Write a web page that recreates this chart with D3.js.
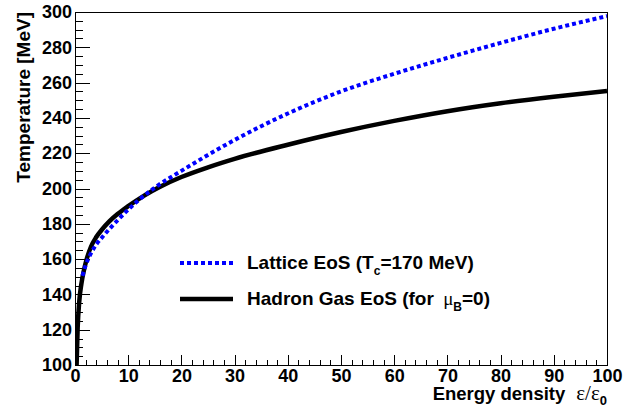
<!DOCTYPE html>
<html>
<head>
<meta charset="utf-8">
<script src="https://cdn.jsdelivr.net/npm/d3@7"></script>
<style>
    html, body { margin: 0; padding: 0; background: #fff; }
    svg { display: block; }
    .axis text { font-family: 'Liberation Sans', Arial, sans-serif; font-weight: bold; font-size: 18px; fill: #000; }
    .axis line { stroke: #000; shape-rendering: crispEdges; }
    .lbl { font-family: 'Liberation Sans', Arial, sans-serif; font-weight: bold; fill: #000; }
    .sym { font-family: 'Liberation Serif', 'Times New Roman', serif; font-weight: normal; }
</style>
</head>
<body>
<div id="chart"></div>
<script>
// Lattice EoS (Tc = 170 MeV)
const latticeEps = [1.4, 2, 3, 4, 5, 6, 8, 10, 12, 15, 20, 25, 30, 40, 50, 60, 70, 80, 90, 100];
const latticeT   = [150.5, 156.5, 163.3, 168.3, 172, 175.5, 182, 188, 193.5, 200.5, 210, 219, 227.5, 242.5, 255, 265, 274, 282.5, 290.5, 297.7];

// Hadron gas EoS (muB = 0)
const hadronEps = [0.3, 0.5, 0.8, 1.2, 1.7, 2.2, 3, 4, 5, 6.5, 8, 10, 13, 16, 20, 25, 30, 40, 50, 60, 70, 80, 90, 100];
const hadronT   = [100, 121, 136, 146, 154, 160, 167, 172.5, 176.5, 181.5, 185.5, 190, 196, 201, 206.5, 212, 216.8, 224.8, 232, 238.3, 243.8, 248.3, 252, 255.2];

const xTicks = [0, 10, 20, 30, 40, 50, 60, 70, 80, 90, 100];
const yTicks = [100, 120, 140, 160, 180, 200, 220, 240, 260, 280, 300];
const xMinor = d3.range(0, 101, 2);
const yMinor = d3.range(100, 301, 5);

const W = 631, H = 407;
const margin = { top: 12, right: 24, bottom: 42, left: 75 };
const w = W - margin.left - margin.right;
const h = H - margin.top - margin.bottom;

const svg = d3.select('#chart').append('svg')
    .attr('width', W).attr('height', H);

const g = svg.append('g')
    .attr('transform', `translate(${margin.left},${margin.top})`);

const x = d3.scaleLinear().domain([0, 100]).range([0, w]);
const y = d3.scaleLinear().domain([100, 300]).range([h, 0]);

g.append('clipPath').attr('id', 'plotClip')
    .append('rect').attr('width', w).attr('height', h);

// minor ticks
g.append('g').attr('class', 'axis').attr('transform', `translate(0,${h})`)
    .call(d3.axisBottom(x).tickValues(xMinor).tickSizeInner(-5).tickSizeOuter(0).tickFormat(''))
    .call(s => s.select('.domain').remove());
g.append('g').attr('class', 'axis')
    .call(d3.axisLeft(y).tickValues(yMinor).tickSizeInner(-8).tickSizeOuter(0).tickFormat(''))
    .call(s => s.select('.domain').remove());

// major ticks + labels
g.append('g').attr('class', 'axis').attr('transform', `translate(0,${h})`)
    .call(d3.axisBottom(x).tickValues(xTicks).tickSizeInner(-10).tickSizeOuter(0).tickFormat(d3.format('d')))
    .call(s => s.select('.domain').remove())
    .call(s => s.selectAll('text').attr('y', 17).attr('dy', 0));
g.append('g').attr('class', 'axis')
    .call(d3.axisLeft(y).tickValues(yTicks).tickSizeInner(-15).tickSizeOuter(0).tickFormat(d3.format('d')))
    .call(s => s.select('.domain').remove())
    .call(s => s.selectAll('text').attr('x', -3));

// frame
g.append('rect')
    .attr('width', w).attr('height', h)
    .attr('fill', 'none').attr('stroke', '#000').attr('stroke-width', 1)
    .style('shape-rendering', 'crispEdges');

// curves
const line = d3.line()
    .x(d => x(d[0]))
    .y(d => y(d[1]))
    .curve(d3.curveMonotoneX);

const curves = g.append('g').attr('clip-path', 'url(#plotClip)');

curves.append('path')
    .datum(d3.zip(hadronEps, hadronT))
    .attr('fill', 'none')
    .attr('stroke', '#000')
    .attr('stroke-width', 4.5)
    .attr('d', line);

curves.append('path')
    .datum(d3.zip(latticeEps, latticeT))
    .attr('fill', 'none')
    .attr('stroke', '#0000ff')
    .attr('stroke-width', 4)
    .attr('stroke-dasharray', '4,3')
    .attr('d', line);

// legend
const leg = svg.append('g');
leg.append('line')
    .attr('x1', 180).attr('x2', 233).attr('y1', 263).attr('y2', 263)
    .attr('stroke', '#0000ff').attr('stroke-width', 4).attr('stroke-dasharray', '4,3');
leg.append('line')
    .attr('x1', 180).attr('x2', 233).attr('y1', 299).attr('y2', 299)
    .attr('stroke', '#000').attr('stroke-width', 4.5);

const t1 = leg.append('text').attr('class', 'lbl').attr('x', 247).attr('y', 269).style('font-size', '19px');
t1.append('tspan').text('Lattice EoS (T');
t1.append('tspan').attr('dy', 6).style('font-size', '12px').text('c');
t1.append('tspan').attr('dy', -6).text('=170 MeV)');

const t2 = leg.append('text').attr('class', 'lbl').attr('x', 247).attr('y', 305).style('font-size', '19px');
t2.append('tspan').text('Hadron Gas EoS (for ');
t2.append('tspan').attr('class', 'sym').attr('dx', 4).text('μ');
t2.append('tspan').attr('dy', 6).style('font-size', '12px').text('B');
t2.append('tspan').attr('dy', -6).text('=0)');

// axis titles
const xt = svg.append('text').attr('class', 'lbl')
    .attr('x', margin.left + w).attr('y', 400)
    .attr('text-anchor', 'end')
    .style('font-size', '18.5px');
xt.append('tspan').text('Energy density');
xt.append('tspan').attr('class', 'sym').attr('dx', 11).style('font-size', '21px').text('ε/ε');
xt.append('tspan').attr('dy', 5).style('font-size', '13px').text('0');

svg.append('text').attr('class', 'lbl')
    .attr('transform', `translate(30,${margin.top}) rotate(-90)`)
    .attr('text-anchor', 'end')
    .style('font-size', '19px')
    .text('Temperature [MeV]');
</script>
</body>
</html>
